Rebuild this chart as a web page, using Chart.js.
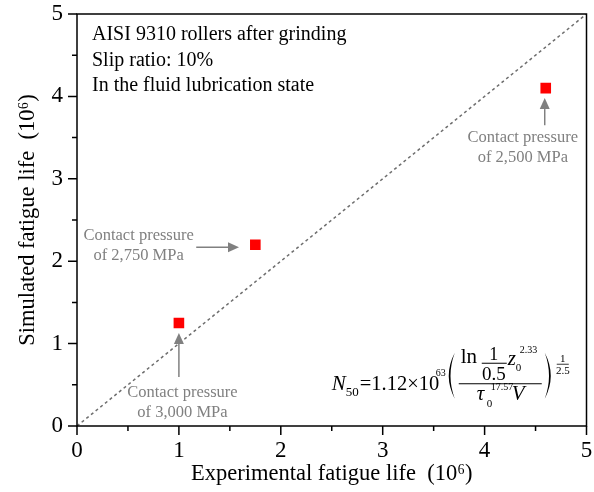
<!DOCTYPE html>
<html>
<head>
<meta charset="utf-8">
<script src="https://cdn.jsdelivr.net/npm/chart.js@4/dist/chart.umd.min.js"></script>
<style>
  html, body { margin: 0; padding: 0; background: #fff; }
  #wrap { width: 594px; height: 492px; }
</style>
</head>
<body>
<div id="wrap"><canvas id="chart" width="594" height="492"></canvas></div>
<script>
// DATA
const experimentalLife = [1.0, 1.75, 4.6];
const simulatedLife = [1.25, 2.2, 4.1];
const contactPressure = ["3,000", "2,750", "2,500"];
const refLineX = [0, 5];
const refLineY = [0, 5];
const axisMin = 0;
const axisMax = 5;
const infoLines = ["AISI 9310 rollers after grinding", "Slip ratio: 10%", "In the fluid lubrication state"];

const SERIF = "'Liberation Serif', 'Times New Roman', serif";
const GREY = "#808080";

// label placement in data units: [text centre x, first baseline y, arrow from, arrow to]
const notes = [
    { cx: 1.035, by: 0.352, from: [1.0, 0.595], to: [1.0, 1.13] },
    { cx: 0.605, by: 2.257, from: [1.17, 2.17], to: [1.59, 2.17] },
    { cx: 4.375, by: 3.447, from: [4.59, 3.65], to: [4.59, 3.98] },
];

function arrow(c, x1, y1, x2, y2) {
    const a = Math.atan2(y2 - y1, x2 - x1);
    const hl = 11, hw = 5;
    const bx = x2 - hl * Math.cos(a), by = y2 - hl * Math.sin(a);
    c.beginPath();
    c.moveTo(x1, y1);
    c.lineTo(bx, by);
    c.stroke();
    c.beginPath();
    c.moveTo(x2, y2);
    c.lineTo(bx + hw * Math.sin(a), by - hw * Math.cos(a));
    c.lineTo(bx - hw * Math.sin(a), by + hw * Math.cos(a));
    c.closePath();
    c.fill();
}

function paren(c, x, top, bot, left) {
    // filled crescent, thick in the middle
    const mid = (top + bot) / 2;
    const d = left ? 1 : -1;
    c.beginPath();
    c.moveTo(x + d * 7, top);
    c.quadraticCurveTo(x - d * 5, mid, x + d * 7, bot);
    c.quadraticCurveTo(x - d * 1.5, mid, x + d * 7, top);
    c.fill();
}

function txt(c, s, x, y, size, italic, align) {
    c.font = (italic ? "italic " : "") + size + "px " + SERIF;
    c.textAlign = align || "left";
    c.fillText(s, x, y);
    return x + c.measureText(s).width;
}

const decorPlugin = {
    id: "decor",
    afterDraw(chart) {
        const c = chart.ctx;
        const xs = chart.scales.x, ys = chart.scales.y;
        const a = chart.chartArea;
        c.save();

        // frame
        c.strokeStyle = "#000";
        c.lineWidth = 1.5;
        c.strokeRect(a.left, a.top, a.right - a.left, a.bottom - a.top);

        // ticks, major and minor, outside
        for (let v = axisMin; v <= axisMax + 1e-9; v += 0.5) {
            const len = Number.isInteger(v) ? 9 : 5;
            const px = xs.getPixelForValue(v);
            const py = ys.getPixelForValue(v);
            c.beginPath();
            c.moveTo(px, a.bottom);
            c.lineTo(px, a.bottom + len);
            c.moveTo(a.left, py);
            c.lineTo(a.left - len, py);
            c.stroke();
        }

        // info text
        c.fillStyle = "#000";
        c.textBaseline = "alphabetic";
        infoLines.forEach((s, i) => txt(c, s, 92, 40 + i * 25.5, 20));

        // pressure labels + arrows
        c.fillStyle = GREY;
        c.strokeStyle = GREY;
        c.lineWidth = 1.5;
        notes.forEach((n, i) => {
            const x = xs.getPixelForValue(n.cx);
            const y = ys.getPixelForValue(n.by);
            txt(c, "Contact pressure", x, y, 16.5, false, "center");
            txt(c, "of " + contactPressure[i] + " MPa", x, y + 20, 16.5, false, "center");
            arrow(c, xs.getPixelForValue(n.from[0]), ys.getPixelForValue(n.from[1]),
                xs.getPixelForValue(n.to[0]), ys.getPixelForValue(n.to[1]));
        });

        // formula
        c.fillStyle = "#000";
        c.strokeStyle = "#000";
        const ox = xs.getPixelForValue(2.5), oy = ys.getPixelForValue(0.44);
        txt(c, "N", ox, oy, 21, true);
        txt(c, "50", ox + 14, oy + 6, 13);
        txt(c, "=1.12\u00d710", ox + 28, oy, 20.5);
        txt(c, "63", ox + 104, oy - 14, 10);
        paren(c, ox + 116, oy - 37, oy + 9, true);
        txt(c, "ln", ox + 129, oy - 27, 21);
        txt(c, "1", ox + 162, oy - 30, 18, false, "center");
        c.lineWidth = 1;
        c.beginPath(); c.moveTo(ox + 150, oy - 26.5); c.lineTo(ox + 175, oy - 26.5); c.stroke();
        txt(c, "0.5", ox + 162, oy - 10, 19, false, "center");
        txt(c, "z", ox + 176, oy - 25, 21, true);
        txt(c, "0", ox + 184, oy - 19, 11);
        txt(c, "2.33", ox + 188, oy - 37, 10);
        c.lineWidth = 1.2;
        c.beginPath(); c.moveTo(ox + 127, oy - 6); c.lineTo(ox + 210, oy - 6); c.stroke();
        txt(c, "\u03c4", ox + 145, oy + 10, 21, true);
        txt(c, "0", ox + 155, oy + 17, 11);
        txt(c, "17.57", ox + 159, oy, 10);
        txt(c, "V", ox + 180, oy + 10, 21, true);
        paren(c, ox + 220, oy - 37, oy + 9, false);
        txt(c, "1", ox + 231, oy - 28, 11, false, "center");
        c.lineWidth = 0.8;
        c.beginPath(); c.moveTo(ox + 225, oy - 25.5); c.lineTo(ox + 237, oy - 25.5); c.stroke();
        txt(c, "2.5", ox + 231, oy - 16, 11, false, "center");

        c.restore();
    },
};

const ctx = document.getElementById("chart");

const chart = new Chart(ctx, {
    type: "scatter",
    data: {
        datasets: [
            {
                type: "line",
                data: refLineX.map((x, i) => ({ x, y: refLineY[i] })),
                borderColor: "#6e6e6e",
                borderWidth: 1.5,
                borderDash: [3, 3],
                pointRadius: 0,
                fill: false,
                order: 2,
            },
            {
                data: experimentalLife.map((x, i) => ({ x, y: simulatedLife[i] })),
                pointStyle: "rect",
                pointRadius: 7.5,
                pointHoverRadius: 7.5,
                backgroundColor: "#ff0000",
                borderColor: "#ff0000",
                borderWidth: 0,
                order: 1,
            },
        ],
    },
    options: {
        responsive: false,
        animation: false,
        layout: { padding: { top: 14, right: 5, left: 0, bottom: 0 } },
        plugins: {
            legend: { display: false },
            tooltip: { enabled: false },
        },
        scales: {
            x: {
                type: "linear",
                min: axisMin,
                max: axisMax,
                afterFit: (s) => { s.height = 66; s.paddingLeft = 0; s.paddingRight = 0; },
                border: { display: false },
                grid: { display: false, drawTicks: false },
                ticks: {
                    stepSize: 1,
                    padding: 11,
                    color: "#000",
                    font: { family: SERIF, size: 23 },
                },
                title: {
                    display: true,
                    text: "Experimental fatigue life  (10\u2076)",
                    color: "#000",
                    font: { family: SERIF, size: 22.5 },
                    padding: { top: 0, bottom: 4 },
                },
            },
            y: {
                type: "linear",
                min: axisMin,
                max: axisMax,
                afterFit: (s) => { s.width = 77; s.paddingTop = 0; s.paddingBottom = 0; },
                border: { display: false },
                grid: { display: false, drawTicks: false },
                ticks: {
                    stepSize: 1,
                    padding: 14,
                    color: "#000",
                    font: { family: SERIF, size: 23 },
                },
                title: {
                    display: true,
                    text: "Simulated fatigue life  (10\u2076)",
                    color: "#000",
                    font: { family: SERIF, size: 22.5 },
                    padding: { top: 15, bottom: 0 },
                },
            },
        },
    },
    plugins: [decorPlugin],
});
</script>
</body>
</html>
